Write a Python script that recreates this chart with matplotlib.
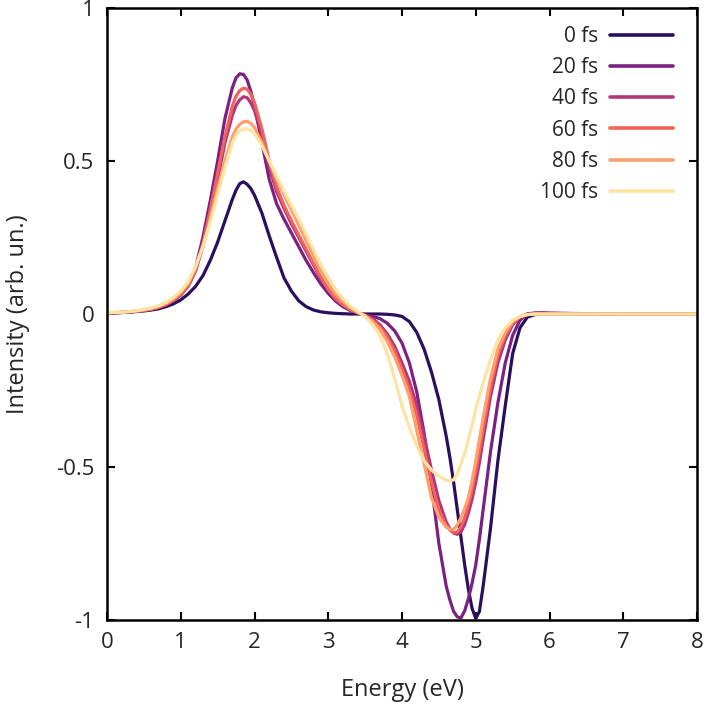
import numpy as np
import matplotlib
matplotlib.use("Agg")
import matplotlib.pyplot as plt

plt.rcParams['font.family'] = ['Open Sans', 'DejaVu Sans']
plt.rcParams['axes.unicode_minus'] = False

# ---------------- data ----------------
energy = [0.0, 0.1, 0.2, 0.3, 0.4, 0.5, 0.6, 0.7, 0.8, 0.9,
          1.0, 1.1, 1.2, 1.3, 1.4, 1.5, 1.6, 1.7,
          1.75, 1.8, 1.85, 1.9, 1.95,
          2.0, 2.1, 2.2, 2.3, 2.4, 2.5, 2.6, 2.7, 2.8, 2.9,
          3.0, 3.1, 3.2, 3.3, 3.4, 3.5, 3.6, 3.7, 3.8, 3.9,
          4.0, 4.1, 4.2, 4.3, 4.4, 4.5, 4.6,
          4.65, 4.7, 4.75, 4.8, 4.85, 4.9, 4.95, 5.0, 5.05,
          5.1, 5.2, 5.3, 5.4, 5.5, 5.6, 5.7, 5.8, 5.9, 6.0,
          6.5, 7.0, 7.5, 8.0]

labels = ["0 fs", "20 fs", "40 fs", "60 fs", "80 fs", "100 fs"]

i_0fs = [0.003, 0.004, 0.005, 0.006, 0.008, 0.010, 0.013, 0.017, 0.024, 0.033,
         0.046, 0.065, 0.090, 0.125, 0.175, 0.235, 0.305, 0.375,
         0.405, 0.426, 0.432, 0.424, 0.410,
         0.388, 0.330, 0.255, 0.185, 0.118, 0.075, 0.043, 0.024, 0.013, 0.007,
         0.004, 0.002, 0.001, 0.000, 0.000, 0.000, 0.000, 0.000, -0.001, -0.003,
         -0.008, -0.025, -0.060, -0.115, -0.190, -0.280, -0.400,
         -0.470, -0.550, -0.640, -0.730, -0.820, -0.900, -0.962, -0.995, -0.972,
         -0.890, -0.700, -0.480, -0.300, -0.130, -0.045, -0.010, -0.002, 0.000, 0.000,
         0.000, 0.000, 0.000, 0.000]

i_20fs = [0.003, 0.004, 0.005, 0.007, 0.009, 0.012, 0.016, 0.022, 0.030, 0.043,
          0.062, 0.095, 0.150, 0.250, 0.370, 0.500, 0.640, 0.740,
          0.772, 0.785, 0.783, 0.765, 0.728,
          0.680, 0.560, 0.440, 0.360, 0.310, 0.265, 0.220, 0.175, 0.135, 0.098,
          0.067, 0.042, 0.024, 0.011, 0.003, -0.003, -0.008, -0.015, -0.030, -0.055,
          -0.095, -0.160, -0.255, -0.390, -0.560, -0.750, -0.890,
          -0.935, -0.972, -0.990, -0.993, -0.970, -0.930, -0.880, -0.820, -0.735,
          -0.640, -0.450, -0.290, -0.160, -0.070, -0.020, 0.000, 0.003, 0.004, 0.003,
          0.001, 0.000, 0.000, 0.000]

i_40fs = [0.003, 0.004, 0.005, 0.007, 0.009, 0.012, 0.016, 0.022, 0.031, 0.044,
          0.062, 0.090, 0.140, 0.220, 0.320, 0.440, 0.560, 0.650,
          0.682, 0.700, 0.710, 0.707, 0.690,
          0.665, 0.585, 0.480, 0.400, 0.345, 0.295, 0.250, 0.205, 0.160, 0.115,
          0.080, 0.050, 0.030, 0.014, 0.004, -0.004, -0.015, -0.035, -0.065, -0.105,
          -0.160, -0.220, -0.300, -0.400, -0.510, -0.610, -0.680,
          -0.703, -0.716, -0.720, -0.712, -0.688, -0.650, -0.605, -0.550, -0.485,
          -0.410, -0.270, -0.160, -0.085, -0.035, -0.010, 0.000, 0.003, 0.003, 0.002,
          0.000, 0.000, 0.000, 0.000]

i_60fs = [0.003, 0.004, 0.005, 0.007, 0.009, 0.012, 0.016, 0.022, 0.031, 0.045,
          0.064, 0.093, 0.145, 0.230, 0.340, 0.460, 0.580, 0.680,
          0.712, 0.730, 0.738, 0.735, 0.718,
          0.690, 0.605, 0.500, 0.415, 0.355, 0.305, 0.258, 0.212, 0.165, 0.120,
          0.080, 0.050, 0.030, 0.014, 0.004, -0.005, -0.020, -0.042, -0.075, -0.120,
          -0.180, -0.245, -0.330, -0.440, -0.550, -0.640, -0.690,
          -0.706, -0.714, -0.712, -0.695, -0.665, -0.625, -0.575, -0.515, -0.448,
          -0.375, -0.240, -0.135, -0.070, -0.030, -0.010, -0.002, 0.000, 0.000, 0.000,
          0.000, 0.000, 0.000, 0.000]

i_80fs = [0.004, 0.005, 0.006, 0.008, 0.010, 0.014, 0.018, 0.025, 0.035, 0.050,
          0.070, 0.100, 0.150, 0.220, 0.310, 0.410, 0.500, 0.580,
          0.605, 0.620, 0.628, 0.630, 0.623,
          0.610, 0.560, 0.500, 0.440, 0.390, 0.340, 0.290, 0.240, 0.190, 0.140,
          0.100, 0.065, 0.040, 0.020, 0.006, -0.006, -0.025, -0.050, -0.090, -0.140,
          -0.200, -0.270, -0.380, -0.490, -0.600, -0.665, -0.697,
          -0.704, -0.703, -0.690, -0.665, -0.636, -0.600, -0.545, -0.480, -0.410,
          -0.340, -0.210, -0.115, -0.060, -0.025, -0.008, -0.002, 0.000, 0.000, 0.000,
          0.000, 0.000, 0.000, 0.000]

i_100fs = [0.004, 0.005, 0.006, 0.008, 0.011, 0.015, 0.020, 0.027, 0.038, 0.054,
           0.075, 0.105, 0.155, 0.220, 0.300, 0.390, 0.480, 0.560,
           0.585, 0.600, 0.604, 0.605, 0.600,
           0.590, 0.550, 0.500, 0.450, 0.400, 0.355, 0.310, 0.260, 0.210, 0.160,
           0.120, 0.080, 0.050, 0.025, 0.008, -0.008, -0.035, -0.070, -0.130, -0.210,
           -0.300, -0.370, -0.430, -0.480, -0.510, -0.530, -0.543,
           -0.545, -0.542, -0.520, -0.490, -0.455, -0.410, -0.362, -0.310, -0.268,
           -0.225, -0.150, -0.085, -0.045, -0.020, -0.008, -0.002, 0.000, 0.000, 0.000,
           0.000, 0.000, 0.000, 0.000]

series = [i_0fs, i_20fs, i_40fs, i_60fs, i_80fs, i_100fs]

x_ticks = [0, 1, 2, 3, 4, 5, 6, 7, 8]
x_ticklabels = ["0", "1", "2", "3", "4", "5", "6", "7", "8"]
y_ticks = [-1, -0.5, 0, 0.5, 1]
y_ticklabels = ["-1", "-0.5", "0", "0.5", "1"]

# ---------------- style ----------------
colors = ['#2a0f5c', '#7a2181', '#b3367a', '#f2625c', '#fea06d', '#fde3a4']
text_color = '#262626'
fs_leg = 15
fs_tick = 16
fs_lab = 17

fig = plt.figure(figsize=(7.09, 7.16), dpi=100)
ax = fig.add_axes([107 / 709, 1 - 620 / 716, 590 / 709, 612 / 716])

for vals, lab, col in zip(series, labels, colors):
    ax.plot(energy, vals, color=col, lw=2.3, label=lab,
            solid_capstyle='round', solid_joinstyle='round')

ax.set_xlim(0, 8)
ax.set_ylim(-1, 1)
ax.set_xticks(x_ticks)
ax.set_xticklabels(x_ticklabels)
ax.set_yticks(y_ticks)
ax.set_yticklabels(y_ticklabels)

for s in ax.spines.values():
    s.set_linewidth(1.8)
    s.set_color('black')

ax.tick_params(direction='in', length=6, width=1.5, top=True, right=True,
               labelsize=fs_tick, colors='black', labelcolor=text_color, pad=9)

ax.set_xlabel('Energy (eV)', fontsize=fs_lab, color=text_color, labelpad=18)
ax.set_ylabel('Intensity (arb. un.)', fontsize=fs_lab, color=text_color, labelpad=19)

leg = ax.legend(loc='upper right', bbox_to_anchor=(0.959, 0.9706),
                frameon=False, markerfirst=False,
                fontsize=fs_leg, handlelength=3.0, handletextpad=0.6,
                labelspacing=0.49, borderpad=0.0, borderaxespad=0.0)
for t in leg.get_texts():
    t.set_color(text_color)
for h in leg.get_lines():
    h.set_linewidth(2.6)

fig.savefig('out.png', dpi=100, facecolor='white')
